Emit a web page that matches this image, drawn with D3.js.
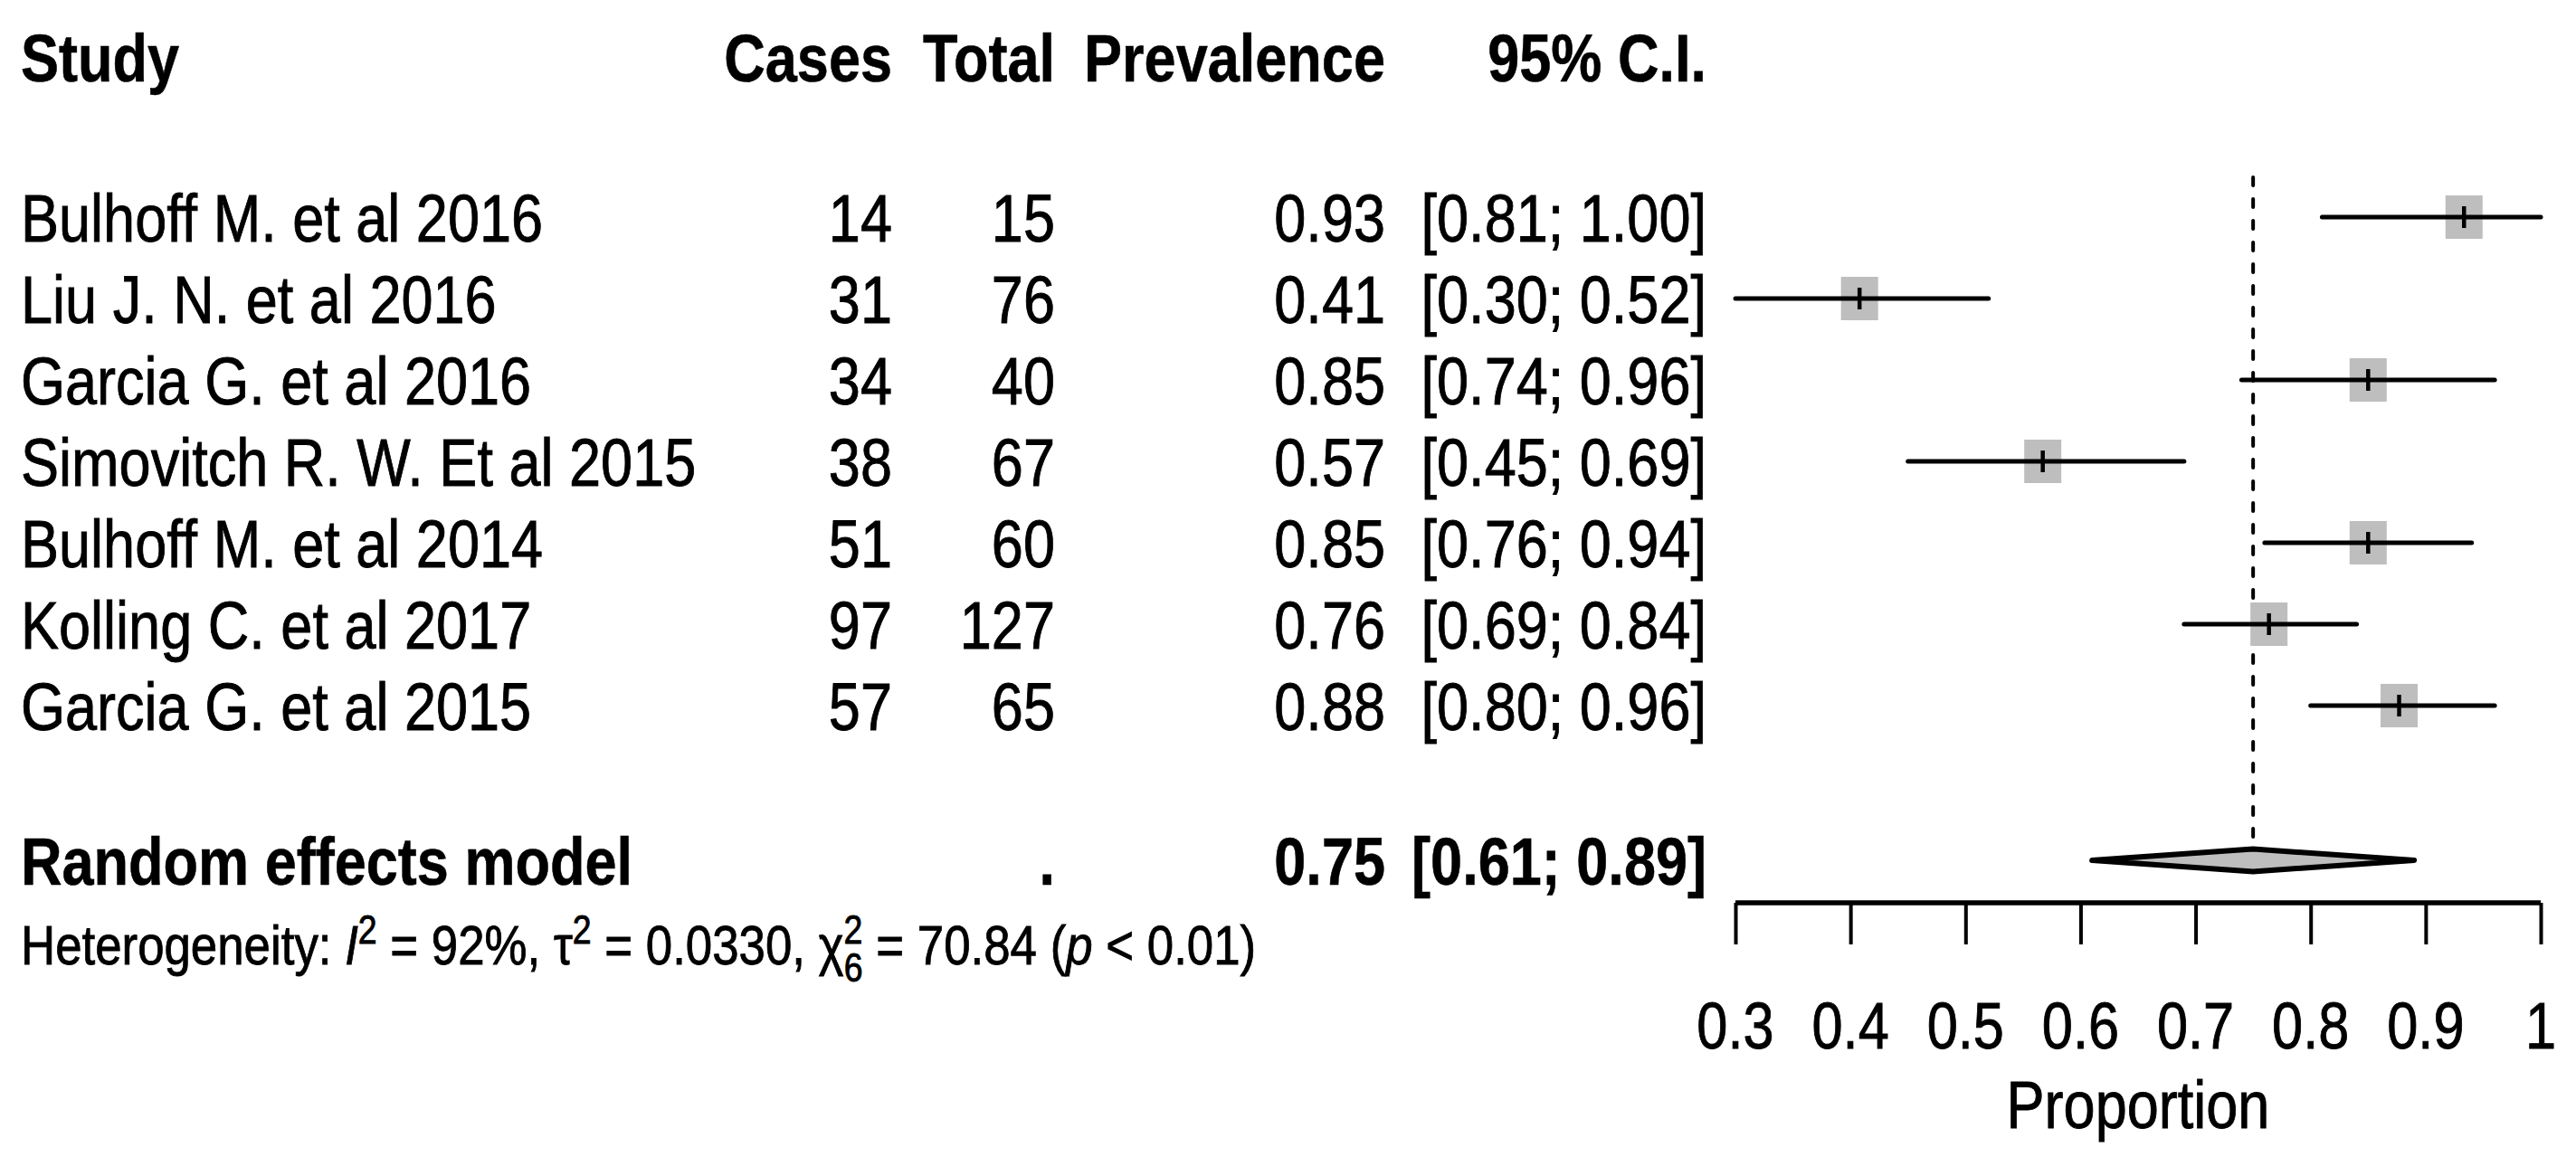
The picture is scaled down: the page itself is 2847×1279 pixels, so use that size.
<!DOCTYPE html>
<html>
<head>
<meta charset="utf-8">
<script src="https://cdn.jsdelivr.net/npm/d3@7"></script>
<style>
  body { margin: 0; background: #fff; }
  text { font-family: "Liberation Sans", Arial, Helvetica, sans-serif; fill: #000; }
</style>
</head>
<body>
<svg id="chart" width="2847" height="1279"></svg>
<script>
// data
var studies = ["Bulhoff M. et al 2016", "Liu J. N. et al 2016", "Garcia G. et al 2016",
               "Simovitch R. W. Et al 2015", "Bulhoff M. et al 2014", "Kolling C. et al 2017",
               "Garcia G. et al 2015"];
var cases = [14, 31, 34, 38, 51, 97, 57];
var totals = [15, 76, 40, 67, 60, 127, 65];
var prevalence = [0.93, 0.41, 0.85, 0.57, 0.85, 0.76, 0.88];
var lower = [0.81, 0.30, 0.74, 0.45, 0.76, 0.69, 0.80];
var upper = [1.00, 0.52, 0.96, 0.69, 0.94, 0.84, 0.96];
var pooled = [0.75, 0.61, 0.89];
var ticks = [0.3, 0.4, 0.5, 0.6, 0.7, 0.8, 0.9, 1];
var headers = ["Study", "Cases", "Total", "Prevalence", "95% C.I."];

var svg = d3.select("#chart");
var sx = 0.852;   // the glyphs in the picture are horizontally squeezed
var fs = 74;

var x = d3.scaleLinear().domain([0.3, 1]).range([1918, 2808]);
var y = d3.scaleLinear().domain([0, 6]).range([240, 780]);

var colStudy = 23, colCases = 986, colTotal = 1166, colPrev = 1531, colCI = 1886;

function label(px, py, s, anchor, bold, size){
	return svg.append("g")
		.attr("transform", "translate(" + px + "," + py + ") scale(" + sx + ",1)")
		.append("text")
		.attr("text-anchor", anchor || "start")
		.style("font-size", (size || fs) + "px")
		.style("font-weight", bold ? "bold" : "normal")
		.attr("stroke", "#000").attr("stroke-width", bold ? 0.6 : 0.9)
		.text(s);
}

// header
label(colStudy, 90, headers[0], "start", true);
label(colCases, 90, headers[1], "end", true);
label(colTotal, 90, headers[2], "end", true);
label(colPrev, 90, headers[3], "end", true);
label(colCI, 90, headers[4], "end", true);

// study rows
studies.forEach(function(s, i){
	var by = y(i) + 27;
	label(colStudy, by, s, "start");
	label(colCases, by, cases[i], "end");
	label(colTotal, by, totals[i], "end");
	label(colPrev, by, prevalence[i].toFixed(2), "end");
	label(colCI, by, "[" + lower[i].toFixed(2) + "; " + upper[i].toFixed(2) + "]", "end");
});

// summary row
var ySum = y(7.9);
label(colStudy, ySum + 27, "Random effects model", "start", true);
label(colTotal, ySum + 27, ".", "end", true);
label(colPrev, ySum + 27, pooled[0].toFixed(2), "end", true);
label(colCI, ySum + 27, "[" + pooled[1].toFixed(2) + "; " + pooled[2].toFixed(2) + "]", "end", true);

// heterogeneity line
var het = label(colStudy, 1066, "", "start", false, 62);
het.append("tspan").text("Heterogeneity: ");
het.append("tspan").style("font-style", "italic").text("I");
het.append("tspan").attr("dy", -23).style("font-size", "44px").text("2");
het.append("tspan").attr("dy", 23).text(" = 92%, \u03c4");
het.append("tspan").attr("dy", -23).style("font-size", "44px").text("2");
het.append("tspan").attr("dy", 23).text(" = 0.0330, \u03c7");
het.append("tspan").attr("dy", -23).style("font-size", "44px").text("2");
het.append("tspan").attr("dx", -24).attr("dy", 42).style("font-size", "44px").text("6");
het.append("tspan").attr("dy", -19).text(" = 70.84 (");
het.append("tspan").style("font-style", "italic").text("p");
het.append("tspan").text(" < 0.01)");

// reference line at pooled estimate
svg.append("line")
	.attr("x1", x(pooled[0])).attr("x2", x(pooled[0]))
	.attr("y1", 196).attr("y2", ySum - 13)
	.attr("stroke", "#000").attr("stroke-width", 4)
	.attr("stroke-dasharray", "9,15").attr("stroke-linecap", "round");

// squares, CI lines, centre ticks
var rows = svg.append("g");
studies.forEach(function(s, i){
	var est = cases[i] / totals[i];
	rows.append("rect")
		.attr("x", x(est) - 20.5).attr("y", y(i) - 24)
		.attr("width", 41).attr("height", 48)
		.attr("fill", "#bebebe");
	rows.append("line")
		.attr("x1", x(lower[i])).attr("x2", x(upper[i]))
		.attr("y1", y(i)).attr("y2", y(i))
		.attr("stroke", "#000").attr("stroke-width", 5).attr("stroke-linecap", "round");
	rows.append("line")
		.attr("x1", x(est)).attr("x2", x(est))
		.attr("y1", y(i) - 12).attr("y2", y(i) + 12)
		.attr("stroke", "#000").attr("stroke-width", 4.5);
});

// pooled diamond
svg.append("path")
	.attr("d", "M" + x(pooled[1]) + "," + ySum + "L" + x(pooled[0]) + "," + (ySum - 12.5) +
		"L" + x(pooled[2]) + "," + ySum + "L" + x(pooled[0]) + "," + (ySum + 12.5) + "Z")
	.attr("fill", "#bebebe").attr("stroke", "#000").attr("stroke-width", 6)
	.attr("stroke-linejoin", "round");

// x axis
var axisY = 998;
var axis = svg.append("g").attr("transform", "translate(0," + axisY + ")")
	.call(d3.axisBottom(x).tickValues(ticks).tickSize(46).tickFormat(function(d){ return d3.format("")(d); }));
axis.select(".domain").attr("d", "M" + x(0.3) + ",0H" + x(1)).attr("stroke-width", 5.5);
axis.selectAll(".tick line").attr("stroke-width", 4);
axis.selectAll(".tick text").remove();

ticks.forEach(function(t){
	label(x(t), 1159, d3.format("")(t), "middle", false, 72);
});
label((x(0.3) + x(1)) / 2, 1247, "Proportion", "middle", false, 74);
</script>
</body>
</html>
